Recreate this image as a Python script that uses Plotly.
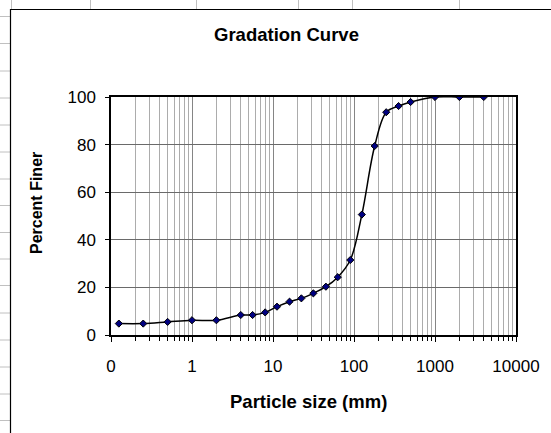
import plotly.graph_objects as go

# Sieve analysis results
particle_size_mm = [0.125, 0.25, 0.5, 1, 2, 4, 5.6, 8, 11.2, 16, 22.4, 31.5,
                    45, 63, 90, 125, 180, 250, 355, 500, 1000, 2000, 4000]
percent_finer = [4.8, 4.8, 5.5, 6.2, 6.2, 8.4, 8.4, 9.5, 11.9, 14.0, 15.4, 17.5,
                 20.3, 24.3, 31.5, 50.6, 79.4, 93.6, 96.2, 97.9, 100, 100, 100]

x_tick_values = [0.1, 1, 10, 100, 1000, 10000]
x_tick_labels = ["0", "1", "10", "100", "1000", "10000"]
y_tick_values = [0, 20, 40, 60, 80, 100]

# Page and plot-area geometry (pixels)
W, H = 551, 433
PL, PR, PT, PB = 111, 516, 97, 335


def fx(p):
    return (p - PL) / (PR - PL)


def fy(p):
    return (PB - p) / (PB - PT)


FONT = "Liberation Sans, Arial, sans-serif"

fig = go.Figure()
fig.add_trace(go.Scatter(
    x=particle_size_mm, y=percent_finer,
    mode="lines+markers",
    line=dict(color="black", width=1.5, shape="spline", smoothing=1),
    marker=dict(symbol="diamond", size=5.5, color="#000080",
                line=dict(color="black", width=1)),
    showlegend=False,
))

# Worksheet cell borders around the chart object
sheet_cols = [11, 90, 196, 298, 352, 459]
sheet_rows = [16, 43, 70.5, 97.5, 124.5, 151.5, 178.5, 205, 232, 258.5,
              285, 312.5, 339.5, 366.5, 393.5, 420]
shapes = []
for c in sheet_cols:
    shapes.append(dict(type="line", xref="paper", yref="paper",
                       x0=fx(c + 0.5), x1=fx(c + 0.5), y0=fy(-5), y1=fy(30),
                       line=dict(color="#c0c0c0", width=1), layer="below"))
for r in sheet_rows:
    shapes.append(dict(type="line", xref="paper", yref="paper",
                       x0=fx(-5), x1=fx(30), y0=fy(r + 0.5), y1=fy(r + 0.5),
                       line=dict(color="#c0c0c0", width=1), layer="below"))
# Chart frame
shapes.append(dict(type="rect", xref="paper", yref="paper",
                   x0=fx(10.5), x1=fx(W + 40), y0=fy(H + 40), y1=fy(9.5),
                   fillcolor="white", line=dict(color="black", width=1.2),
                   layer="below"))

annotations = [
    dict(text="<b>Gradation Curve</b>", x=fx(286), y=fy(34), xref="paper",
         yref="paper", showarrow=False, xanchor="center", yanchor="middle",
         font=dict(family=FONT, size=18.5, color="black")),
    dict(text="<b>Particle size (mm)</b>", x=fx(308), y=fy(401), xref="paper",
         yref="paper", showarrow=False, xanchor="center", yanchor="middle",
         font=dict(family=FONT, size=18.5, color="black")),
    dict(text="<b>Percent Finer</b>", x=fx(36), y=fy(203), xref="paper",
         yref="paper", showarrow=False, xanchor="center", yanchor="middle",
         textangle=-90, font=dict(family=FONT, size=16, color="black")),
]

fig.update_layout(
    width=W, height=H,
    margin=dict(l=PL, r=W - PR, t=PT, b=H - PB, pad=0),
    paper_bgcolor="white", plot_bgcolor="rgba(0,0,0,0)",
    font=dict(family=FONT, size=17, color="black"),
    shapes=shapes, annotations=annotations,
)

fig.update_xaxes(
    type="log", range=[-1, 4],
    tickmode="array", tickvals=x_tick_values, ticktext=x_tick_labels,
    ticks="outside", ticklen=5, tickcolor="black", tickwidth=1,
    ticklabelstandoff=10,
    showgrid=True, gridcolor="#858585", gridwidth=1,
    minor=dict(dtick="D1", ticks="outside", ticklen=4, tickcolor="black",
               showgrid=True, gridcolor="#acacac", gridwidth=1),
    showline=True, linecolor="black", linewidth=1.5, mirror=True,
    zeroline=False, tickfont=dict(family=FONT, size=17),
)
fig.update_yaxes(
    range=[0, 100], tickmode="array", tickvals=y_tick_values,
    ticks="outside", ticklen=4, tickcolor="black", tickwidth=1,
    ticklabelstandoff=6,
    showgrid=True, gridcolor="#6a6a6a", gridwidth=1,
    showline=True, linecolor="black", linewidth=1.5, mirror=True,
    zeroline=False, tickfont=dict(family=FONT, size=17),
)

fig.write_html("out.html")
